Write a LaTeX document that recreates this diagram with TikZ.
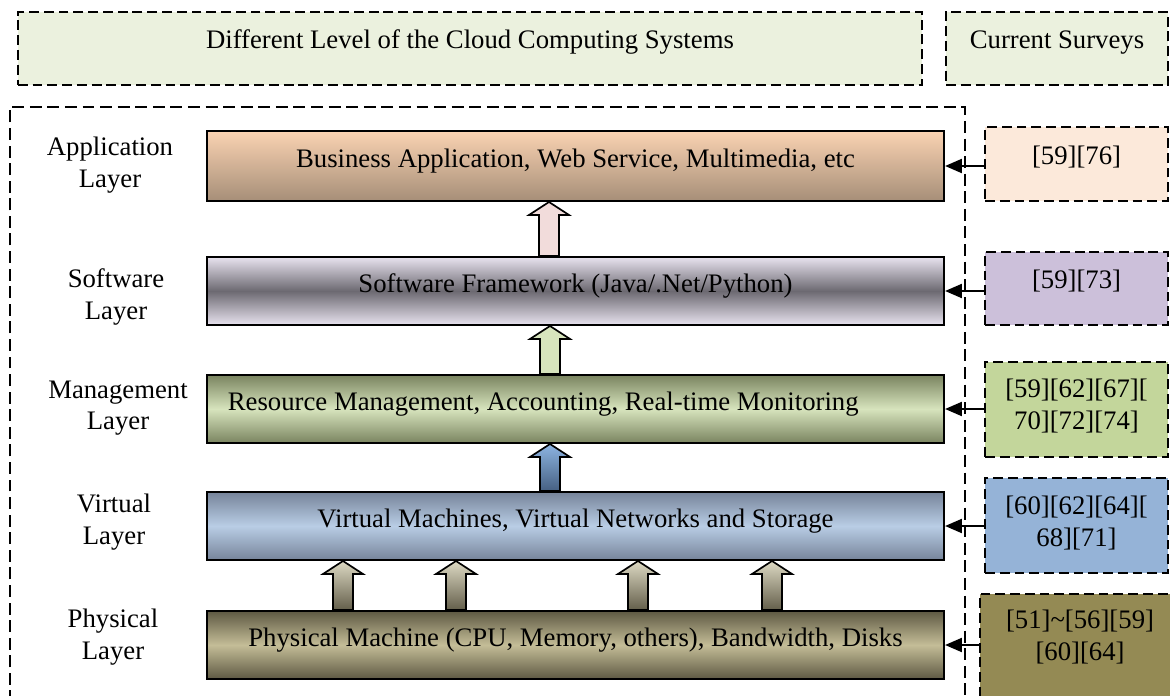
\documentclass[tikz,border=0pt]{standalone}
\usepackage{fontspec}
\setmainfont{Liberation Serif}
\usetikzlibrary{calc,arrows.meta}
\definecolor{headfill}{RGB}{235,241,222}
\definecolor{apptop}{RGB}{250,211,178}
\definecolor{appbot}{RGB}{166,142,120}
\definecolor{softlight}{RGB}{232,227,239}
\definecolor{softdark}{RGB}{108,105,113}
\definecolor{mgmtdark}{RGB}{122,132,96}
\definecolor{mgmtlight}{RGB}{215,228,189}
\definecolor{virtdark}{RGB}{118,132,154}
\definecolor{virtlight}{RGB}{185,205,229}
\definecolor{physdark}{RGB}{94,89,67}
\definecolor{physlight}{RGB}{196,189,151}
\definecolor{survapp}{RGB}{252,233,218}
\definecolor{survsoft}{RGB}{204,192,218}
\definecolor{survmgmt}{RGB}{195,214,155}
\definecolor{survvirt}{RGB}{149,179,215}
\definecolor{survphys}{RGB}{148,138,84}
\definecolor{liftpink}{RGB}{242,220,219}
\definecolor{liftgreen}{RGB}{215,228,189}
\definecolor{liftbluetop}{RGB}{141,180,226}
\definecolor{liftbluebot}{RGB}{70,96,130}
\definecolor{lifttantop}{RGB}{221,217,195}
\definecolor{lifttanbot}{RGB}{100,95,75}
\tikzset{
  every node/.style={font=\fontsize{19}{22.5}\selectfont},
  headbox/.style={draw=black, fill=headfill, line width=1.4pt, dash pattern=on 7pt off 3.5pt,
    minimum height=1.825cm, inner sep=0pt, text height=10pt, text depth=10.6pt},
  layerbox/.style={draw=black, line width=1.4pt, minimum width=18.425cm, minimum height=1.7cm,
    inner sep=0pt, text height=12pt, text depth=10pt},
  layerlabel/.style={align=center, inner sep=0pt},
  surveybox/.style={draw=black, line width=1.4pt, dash pattern=on 7pt off 3.5pt,
    minimum width=4.575cm, inner sep=0pt},
  surveyarrow/.style={line width=1.4pt, -{Triangle[length=12pt,width=10pt]}},
  liftbody/.style={draw=black, line width=1.2pt, line join=miter},
  frameline/.style={line width=1.4pt, dash pattern=on 8.5pt off 4pt},
}
\newcommand{\liftarrow}[4]{%
  \draw[liftbody,#4] ($(#2.north -| #1,0)+(-10,0)$) -- ($(#3.south -| #1,0)+(-10,13)$) -- ++(-10,0)
    -- (#3.south -| #1,0) -- ($(#3.south -| #1,0)+(20,13)$) -- ++(-10,0)
    -- ($(#2.north -| #1,0)+(10,0)$) -- cycle;}
\begin{document}
\begin{tikzpicture}[x=0.025cm, y=-0.025cm]
\useasboundingbox (0,0) rectangle (1170,696);
\clip (0,0) rectangle (1170,696);
\node[headbox, minimum width=22.6cm] (levels) at (470,48.5) {Different Level of the Cloud Computing Systems};
\node[headbox, minimum width=5.55cm] (surveys) at (1057,48.5) {Current Surveys};
\draw[frameline] (10,720) -- (10,107) -- (965,107) -- (965,720);
\node[layerbox, minimum height=1.75cm, top color=apptop, bottom color=appbot] (app) at (575.5,166)
  {Business Application, Web Service, Multimedia, etc};
\node[layerbox, top color=softlight, bottom color=softlight, middle color=softdark] (soft) at (575.5,291)
  {Software Framework (Java/.Net/Python)};
\node[layerbox, top color=mgmtdark, bottom color=mgmtdark, middle color=mgmtlight,
  text width=17.375cm, align=flush left] (mgmt) at (575.5,409)
  {Resource Management, Accounting, Real-time Monitoring};
\node[layerbox, top color=virtdark, bottom color=virtdark, middle color=virtlight] (virt) at (575.5,526)
  {Virtual Machines, Virtual Networks and Storage};
\node[layerbox, top color=physdark, bottom color=physdark, middle color=physlight] (phys) at (575.5,645)
  {Physical Machine (CPU, Memory, others), Bandwidth, Disks};
\node[layerlabel] (appl) at (110,165) {Application\\Layer};
\node[layerlabel] (softl) at (116,297) {Software\\Layer};
\node[layerlabel] (mgmtl) at (118,408) {Management\\Layer};
\node[layerlabel] (virtl) at (114,522) {Virtual\\Layer};
\node[layerlabel] (physl) at (113,637) {Physical\\Layer};
\node[surveybox, fill=survapp, minimum height=1.85cm, text height=10pt, text depth=10pt] (sapp) at (1076.5,164) {[59][76]};
\node[surveybox, fill=survsoft, minimum height=1.825cm, text height=10pt, text depth=10pt] (ssoft) at (1076.5,288.5) {[59][73]};
\node[surveybox, fill=survmgmt, minimum height=2.375cm, text height=12pt, text depth=7pt] (smgmt) at (1076.5,409.5)
  {\begin{tabular}{@{}c@{}}[59][62][67][\\70][72][74]\end{tabular}};
\node[surveybox, fill=survvirt, minimum height=2.375cm, text height=12pt, text depth=5.6pt] (svirt) at (1076.5,525.5)
  {\begin{tabular}{@{}c@{}}[60][62][64][\\68][71]\end{tabular}};
\node[surveybox, fill=survphys, minimum width=5cm, minimum height=3.175cm, text height=10pt, text depth=29pt,
  anchor=north] (sphys) at (1080,593)
  {\begin{tabular}{@{}c@{}}[51]\textasciitilde[56][59]\\[0pt][60][64]\end{tabular}};
\draw[surveyarrow] (sapp.west |- app.east) -- (app.east);
\draw[surveyarrow] (ssoft.west |- soft.east) -- (soft.east);
\draw[surveyarrow] (smgmt.west |- mgmt.east) -- (mgmt.east);
\draw[surveyarrow] (svirt.west |- virt.east) -- (virt.east);
\draw[surveyarrow] (sphys.west |- phys.east) -- (phys.east);
\liftarrow{549}{soft}{app}{fill=liftpink}
\liftarrow{550}{mgmt}{soft}{fill=liftgreen}
\liftarrow{550}{virt}{mgmt}{top color=liftbluetop, bottom color=liftbluebot}
\liftarrow{343}{phys}{virt}{top color=lifttantop, bottom color=lifttanbot}
\liftarrow{456}{phys}{virt}{top color=lifttantop, bottom color=lifttanbot}
\liftarrow{638}{phys}{virt}{top color=lifttantop, bottom color=lifttanbot}
\liftarrow{772}{phys}{virt}{top color=lifttantop, bottom color=lifttanbot}
\end{tikzpicture}
\end{document}
